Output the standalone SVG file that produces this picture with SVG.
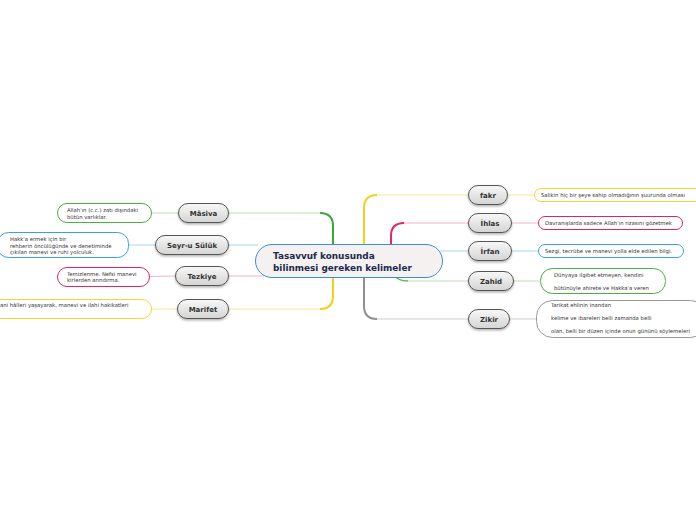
<svg xmlns="http://www.w3.org/2000/svg" width="696" height="520" viewBox="0 0 696 520">
<defs>
<linearGradient id="ng" x1="0" y1="0" x2="0" y2="1">
<stop offset="0" stop-color="#f8f8f8"/>
<stop offset="1" stop-color="#d4d4d4"/>
</linearGradient>
<filter id="sh" x="-20%" y="-20%" width="140%" height="160%">
<feDropShadow dx="0" dy="1.5" stdDeviation="1" flood-color="#000" flood-opacity="0.3"/>
</filter>
</defs>
<style>
.n rect{fill:url(#ng);stroke:#555;stroke-width:1;filter:url(#sh)}
.n text{font-family:"DejaVu Sans",Verdana,sans-serif;font-weight:bold;font-size:7px;fill:#333;text-anchor:middle}
.note rect{fill:#fff;stroke-width:1}
.note text{font-family:"DejaVu Sans",Verdana,sans-serif;font-size:5.3px;fill:#333}
.c{fill:none}
</style>
<rect width="696" height="520" fill="#fff"/>
<g id="connectors">
<path class="c" d="M229 213 H320" stroke="#b9dfb0" stroke-width="1"/>
<path class="c" d="M320 213 Q333 213 333 226 V262" stroke="#3fa33f" stroke-width="2"/>
<path class="c" d="M229 309 H320" stroke="#f8e79a" stroke-width="1"/>
<path class="c" d="M320 309 Q333 309 333 296 V262" stroke="#f4cf1e" stroke-width="2"/>
<path class="c" d="M229 245 H258" stroke="#a9d3f3" stroke-width="1"/>
<path class="c" d="M229 276 H264" stroke="#f5b3c8" stroke-width="1"/>
<path class="c" d="M377 195 H468" stroke="#f8e79a" stroke-width="1"/>
<path class="c" d="M364 250 V208 Q364 195 377 195" stroke="#f4cf1e" stroke-width="2"/>
<path class="c" d="M404 223 H468" stroke="#f5b3c8" stroke-width="1"/>
<path class="c" d="M391 248 V236 Q391 223 404 223" stroke="#e52662" stroke-width="2"/>
<path class="c" d="M440 251 H468" stroke="#a9d3f3" stroke-width="1"/>
<path class="c" d="M408 281 H468" stroke="#b9dfb0" stroke-width="1"/>
<path class="c" d="M394 274 Q397 281 408 281" stroke="#5cb85c" stroke-width="1.5"/>
<path class="c" d="M377 319 H468" stroke="#cfcfcf" stroke-width="1"/>
<path class="c" d="M364 277 V306 Q364 319 377 319" stroke="#8f8f8f" stroke-width="2"/>
<path class="c" d="M151 213 H178" stroke="#b9dfb0" stroke-width="1"/>
<path class="c" d="M129 245 H155" stroke="#a9d3f3" stroke-width="1"/>
<path class="c" d="M149 276.5 L175 276" stroke="#f5b3c8" stroke-width="1"/>
<path class="c" d="M151 309 H177" stroke="#f8e79a" stroke-width="1"/>
<path class="c" d="M508 195 H534" stroke="#f8e79a" stroke-width="1"/>
<path class="c" d="M512 223 H538" stroke="#f5b3c8" stroke-width="1"/>
<path class="c" d="M512 251 H538" stroke="#a9d3f3" stroke-width="1"/>
<path class="c" d="M514 281 H540" stroke="#b9dfb0" stroke-width="1"/>
<path class="c" d="M510 319 H536" stroke="#cfcfcf" stroke-width="1"/>
</g>
<g id="center">
<rect x="255.5" y="244.5" width="187" height="33" rx="16.5" fill="#f4f1f0" stroke="#3b8fd4" stroke-width="1"/>
<text x="273" y="259" font-family="'DejaVu Sans',Verdana,sans-serif" font-weight="bold" font-size="8.9" fill="#1b2a4e">Tasavvuf konusunda</text>
<text x="273" y="270.5" font-family="'DejaVu Sans',Verdana,sans-serif" font-weight="bold" font-size="8.9" fill="#1b2a4e">bilinmesi gereken kelimeler</text>
</g>
<g id="masiva" class="n"><rect x="178.5" y="203.5" width="50" height="19" rx="9.5"/><text x="203.5" y="215.5">Mâsiva</text></g>
<g id="seyr" class="n"><rect x="155.5" y="235.5" width="73" height="19" rx="9.5"/><text x="192" y="247.5">Seyr-u Sülûk</text></g>
<g id="tezkiye" class="n"><rect x="175.5" y="266.5" width="53" height="19" rx="9.5"/><text x="202" y="278.5">Tezkiye</text></g>
<g id="marifet" class="n"><rect x="177.5" y="299.5" width="51" height="19" rx="9.5"/><text x="203" y="311.5">Marifet</text></g>
<g id="fakr" class="n"><rect x="468.5" y="185.5" width="39" height="19" rx="9.5"/><text x="488" y="197.5">fakr</text></g>
<g id="ihlas" class="n"><rect x="468.5" y="213.5" width="43" height="19" rx="9.5"/><text x="490" y="225.5">İhlas</text></g>
<g id="irfan" class="n"><rect x="468.5" y="241.5" width="43" height="19" rx="9.5"/><text x="490" y="253.5">İrfan</text></g>
<g id="zahid" class="n"><rect x="468.5" y="271.5" width="45" height="19" rx="9.5"/><text x="491" y="283.5">Zahid</text></g>
<g id="zikir" class="n"><rect x="468.5" y="309.5" width="41" height="19" rx="9.5"/><text x="489" y="321.5">Zikir</text></g>
<g id="note-masiva" class="note"><rect x="57.5" y="203.5" width="94" height="19" rx="9.5" stroke="#4caf3f"/><text x="67" y="211.5">Allah'ın (c.c.) zatı dışındaki</text><text x="67" y="218.5">bütün varlıklar.</text></g>
<g id="note-seyr" class="note"><rect x="-2.5" y="232.5" width="131" height="25" rx="11" stroke="#3a9ee4"/><text x="10" y="241">Hakk'a ermek için bir</text><text x="10" y="247.5">rehberin öncülüğünde ve denetiminde</text><text x="10" y="254">çıkılan manevi ve ruhi yolculuk.</text></g>
<g id="note-tezkiye" class="note"><rect x="57.5" y="267.5" width="92" height="19" rx="9.5" stroke="#e0245e"/><text x="67" y="275.5">Temizlenme. Nefsi manevi</text><text x="67" y="282">kirlerden arındırma.</text></g>
<g id="note-marifet" class="note"><rect x="-10.5" y="299.5" width="162" height="19" rx="9.5" stroke="#f5d43a"/><text x="0" y="307">ani hâlleri yaşayarak, manevi ve ilahi hakikatleri</text></g>
<g id="note-fakr" class="note"><rect x="534.5" y="188.5" width="170" height="13" rx="6.5" stroke="#f5d43a"/><text x="541" y="197">Salikin hiç bir şeye sahip olmadığının şuurunda olması</text></g>
<g id="note-ihlas" class="note"><rect x="538.5" y="216.5" width="144" height="13" rx="6.5" stroke="#e0245e"/><text x="545" y="225">Davranışlarda sadece Allah'ın rızasını gözetmek</text></g>
<g id="note-irfan" class="note"><rect x="538.5" y="244.5" width="145" height="13" rx="6.5" stroke="#3a9ee4"/><text x="545" y="253">Sezgi, tecrübe ve manevi yolla elde edilen bilgi.</text></g>
<g id="note-zahid" class="note"><rect x="540.5" y="268.5" width="125" height="25" rx="12" stroke="#4caf3f"/><text x="554" y="277">Dünyaya ilgibet etmeyen, kendini</text><text x="554" y="290">bütünüyle ahirete ve Hakka'a veren</text></g>
<g id="note-zikir" class="note"><rect x="536.5" y="300.5" width="170" height="37" rx="16" stroke="#999"/><text x="551" y="307">Tarikat ehlinin inandan</text><text x="551" y="320">kelime ve ibareleri belli zamanda belli</text><text x="551" y="333">olan, belli bir düzen içinde onun gününü söylemeleri</text></g>
</svg>
